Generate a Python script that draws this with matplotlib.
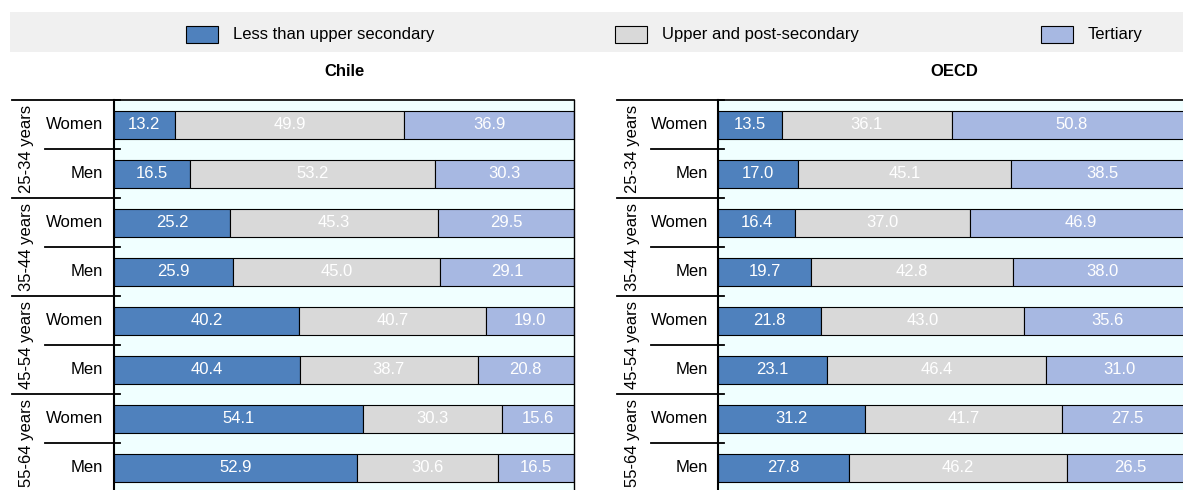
import matplotlib
matplotlib.use("Agg")
import matplotlib.pyplot as plt
import matplotlib.transforms as mtransforms
from matplotlib.patches import Rectangle
import numpy as np

plt.rcParams['font.family'] = ['Liberation Sans', 'DejaVu Sans']

# data
age_groups = ["25-34 years", "35-44 years", "45-54 years", "55-64 years"]
sexes = ["Women", "Men"]
levels = ["Less than upper secondary", "Upper and post-secondary", "Tertiary"]

chile_below = [13.2, 16.5, 25.2, 25.9, 40.2, 40.4, 54.1, 52.9]
chile_upper = [49.9, 53.2, 45.3, 45.0, 40.7, 38.7, 30.3, 30.6]
chile_tert = [36.9, 30.3, 29.5, 29.1, 19.0, 20.8, 15.6, 16.5]

oecd_below = [13.5, 17.0, 16.4, 19.7, 21.8, 23.1, 31.2, 27.8]
oecd_upper = [36.1, 45.1, 37.0, 42.8, 43.0, 46.4, 41.7, 46.2]
oecd_tert = [50.8, 38.5, 46.9, 38.0, 35.6, 31.0, 27.5, 26.5]

colors = ["#4F81BD", "#D9D9D9", "#A7B8E2"]
FS = 12

W, H = 1183, 490
fig = plt.figure(figsize=(W / 100, H / 100), dpi=100)


def fx(px):
    return px / W


def fy(py):
    return 1 - py / H


def draw_panel(left_px, width_px, group_px, tick_px, label_px, glabel_px, title, series):
    ax = fig.add_axes([fx(left_px), fy(492.5), width_px / W, 392.5 / H])
    ax.set_facecolor("#F0FFFF")
    n = len(series[0])
    y = np.arange(n)
    left = np.zeros(n)
    for vals, c in zip(series, colors):
        vals = np.array(vals)
        ax.barh(y, vals, left=left, height=0.57, color=c,
                edgecolor="black", linewidth=0.8)
        for yi, l, v in zip(y, left, vals):
            ax.text(l + v / 2, yi, f"{v:.1f}", ha="center", va="center",
                    color="white", fontsize=FS)
        left = left + vals
    ax.set_xlim(0, 100)
    ax.set_ylim(n - 0.5, -0.5)
    ax.set_xticks([])
    ax.set_yticks([])
    for s in ["left", "top", "right", "bottom"]:
        ax.spines[s].set_color("black")
    ax.spines["left"].set_linewidth(1.5)
    ax.spines["top"].set_linewidth(1.2)
    ax.spines["right"].set_linewidth(1.0)

    trans = mtransforms.blended_transform_factory(fig.transFigure, ax.transData)
    end = fx(left_px + 6)
    # group separators
    for b in np.arange(-0.5, n, 2):
        ax.plot([fx(group_px), end], [b, b], color="black", lw=1.3,
                transform=trans, clip_on=False)
    # women / men separators
    for b in np.arange(0.5, n, 2):
        ax.plot([fx(tick_px), end], [b, b], color="black", lw=1.3,
                transform=trans, clip_on=False)
    # row labels
    for i in range(n):
        ax.text(fx(label_px), i, sexes[i % 2], ha="right", va="center",
                fontsize=FS, transform=trans)
    for g, name in enumerate(age_groups):
        ax.text(fx(glabel_px), 2 * g + 0.5, name, ha="center", va="center",
                rotation=90, fontsize=FS, transform=trans, clip_on=False)
    fig.text(fx(left_px + width_px / 2), fy(72), title, ha="center",
             va="center", fontsize=FS, fontweight="bold")
    return ax


draw_panel(114, 460, 12, 45, 103, 26, "Chile",
           [chile_below, chile_upper, chile_tert])
draw_panel(718, 472, 617, 651, 708, 633, "OECD",
           [oecd_below, oecd_upper, oecd_tert])

# legend band
fig.patches.append(Rectangle((fx(10), fy(52)), 1 - fx(10), (52 - 12) / H,
                             transform=fig.transFigure, facecolor="#F0F0F0",
                             edgecolor="none", zorder=0))
for px, name, c in zip([186, 615, 1041], levels, colors):
    fig.patches.append(Rectangle((fx(px), fy(43)), 32 / W, 17 / H,
                                 transform=fig.transFigure, facecolor=c,
                                 edgecolor="black", linewidth=0.8))
    fig.text(fx(px + 47), fy(34.5), name, ha="left", va="center",
             fontsize=FS)

fig.savefig("out.png", dpi=100)
plt.close(fig)
